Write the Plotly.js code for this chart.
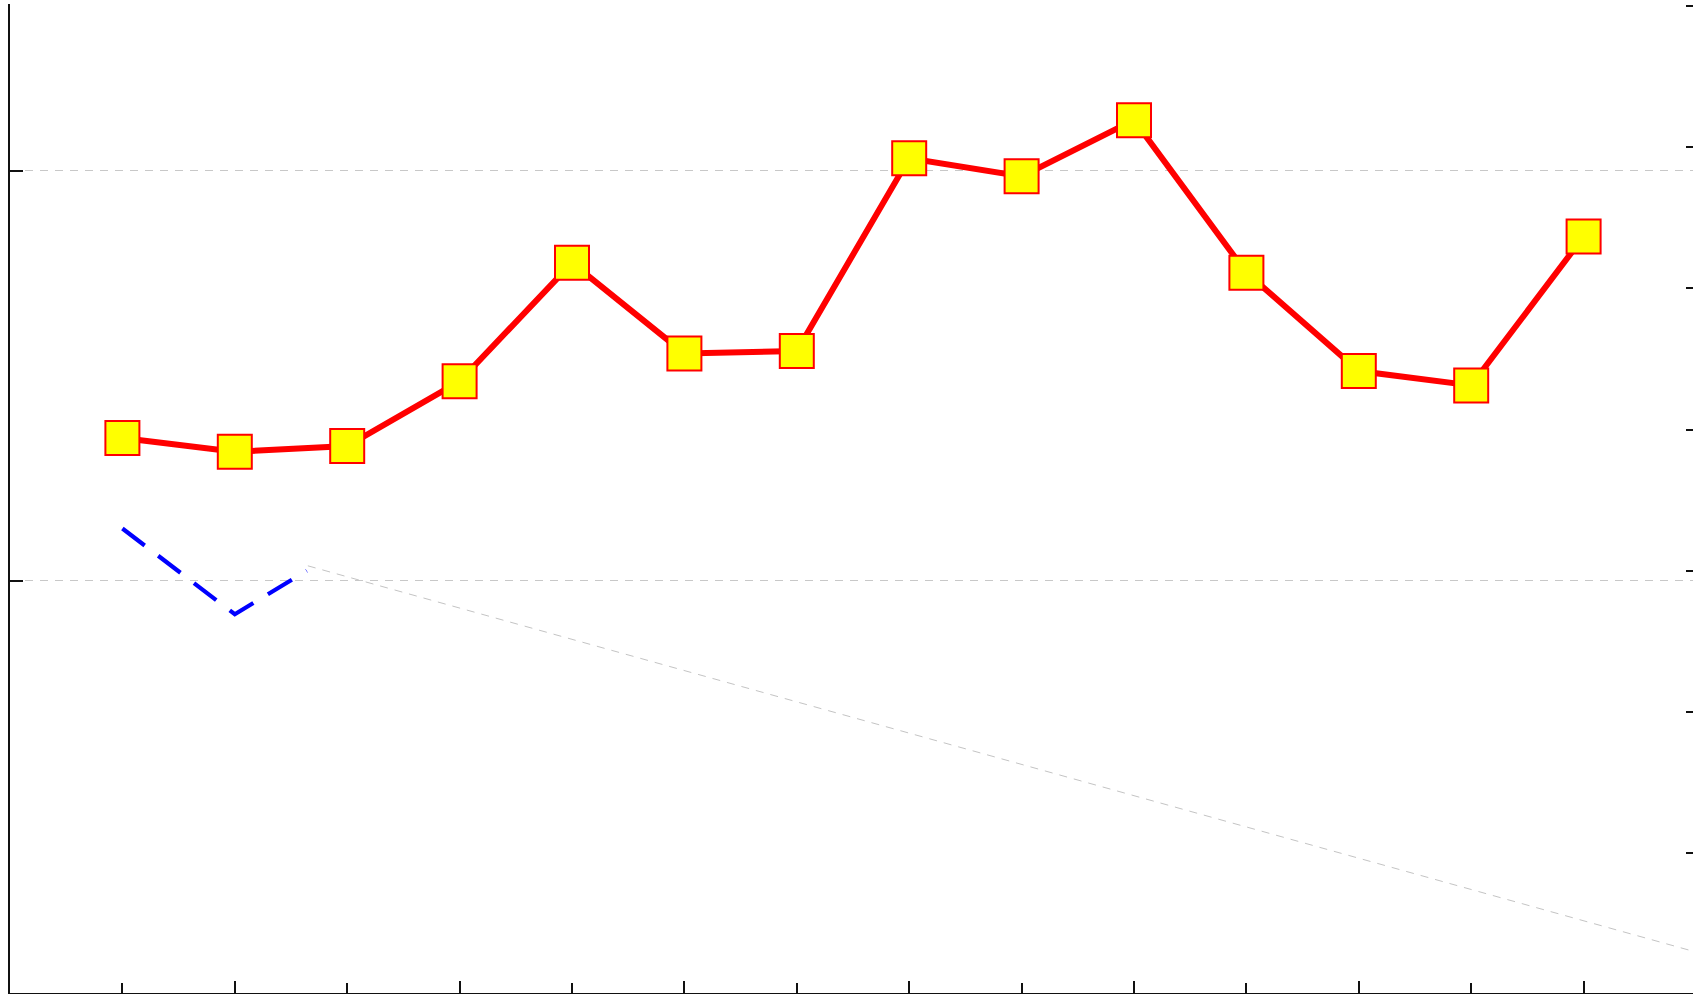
<!DOCTYPE html>
<html>
<head>
<meta charset="utf-8">
<script src="https://cdn.plot.ly/plotly-3.0.1.min.js"></script>
<style>
  html, body { margin: 0; padding: 0; overflow: hidden; background: #fff; }
  #chart { width: 1696px; height: 994px; }
</style>
</head>
<body>
<div id="chart"></div>
<script>
// ---- data ----
const xIndex = [0, 1, 2, 3, 4, 5, 6, 7, 8, 9, 10, 11, 12, 13];
const redValues = [134.9, 131.5, 132.9, 148.7, 177.6, 155.5, 156.1, 203.1, 198.7, 212.4, 175.2, 151.2, 147.7, 184.0];
const blueX = [0, 1, 1.64];
const blueValues = [112.8, 91.9, 102.5];
const grayX = [1.65, 14];
const grayValues = [103.7, 9.5];
const leftTickVals = [100, 200];
const rightTickVals = [0, 1, 2, 3, 4, 5, 6, 7];

const traces = [
  {
    x: grayX, y: grayValues, type: 'scatter', mode: 'lines',
    line: { color: '#c4c4c4', width: 1, dash: '8px,7px' },
    hoverinfo: 'skip', showlegend: false
  },
  {
    x: blueX, y: blueValues, type: 'scatter', mode: 'lines',
    line: { color: '#0000ff', width: 4.2, dash: '28px,17px' },
    showlegend: false
  },
  {
    x: xIndex, y: redValues, type: 'scatter', mode: 'lines+markers',
    line: { color: '#ff0000', width: 6 },
    marker: { symbol: 'square', size: 34, color: '#ffff00', line: { color: '#ff0000', width: 2 } },
    showlegend: false
  },
  {
    x: [], y: [], yaxis: 'y2', type: 'scatter', mode: 'lines', showlegend: false
  }
];

const layout = {
  width: 1696, height: 994,
  margin: { l: 10, r: 0, t: 4, b: 1, pad: 0 },
  paper_bgcolor: '#ffffff', plot_bgcolor: '#ffffff',
  showlegend: false,
  xaxis: {
    range: [-1, 14], showgrid: false, zeroline: false,
    showline: true, linecolor: '#111', linewidth: 2,
    ticks: 'inside', tick0: 1, dtick: 2, ticklen: 12, tickwidth: 2, tickcolor: '#111',
    minor: { ticks: 'inside', dtick: 1, tick0: 0, ticklen: 10, tickwidth: 2, tickcolor: '#111', showgrid: false },
    showticklabels: false, fixedrange: true
  },
  yaxis: {
    range: [-0.49, 240.73], zeroline: false,
    showline: true, linecolor: '#111', linewidth: 2,
    tickmode: 'array', tickvals: leftTickVals,
    ticks: 'inside', ticklen: 13, tickwidth: 2, tickcolor: '#111',
    showgrid: true, gridcolor: '#c8c8c8', gridwidth: 1, griddash: '8px,7px',
    showticklabels: false, fixedrange: true
  },
  yaxis2: {
    overlaying: 'y', side: 'right', anchor: 'x',
    range: [0.0092, 7.0134], tickmode: 'array', tickvals: rightTickVals,
    showgrid: false, zeroline: false,
    showline: true, linecolor: '#111', linewidth: 2,
    ticks: 'inside', ticklen: 10, tickwidth: 2, tickcolor: '#111',
    showticklabels: false, fixedrange: true
  }
};

Plotly.newPlot('chart', traces, layout, { displayModeBar: false, staticPlot: true });
</script>
</body>
</html>
